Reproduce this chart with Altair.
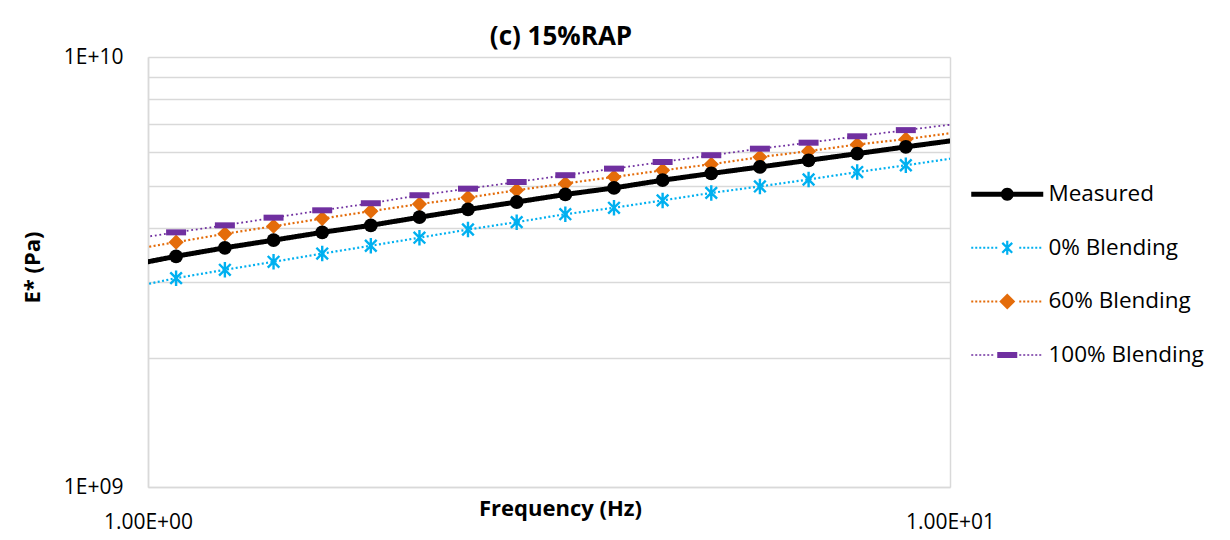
import math
import altair as alt
import pandas as pd

# ---------------- data ----------------
freq = [0.943, 1.084, 1.247, 1.434, 1.649, 1.896, 2.180, 2.506, 2.882, 3.314,
        3.811, 4.382, 5.039, 5.794, 6.663, 7.661, 8.809, 10.13]
measured = [3.27, 3.44, 3.60, 3.75, 3.91, 4.06, 4.24, 4.42, 4.60, 4.79,
            4.96, 5.17, 5.36, 5.55, 5.75, 5.96, 6.18, 6.40]
blend0 = [2.90, 3.06, 3.20, 3.34, 3.49, 3.64, 3.80, 3.97, 4.13, 4.31,
          4.46, 4.64, 4.83, 5.00, 5.19, 5.40, 5.60, 5.82]
blend60 = [3.55, 3.71, 3.88, 4.04, 4.21, 4.38, 4.55, 4.71, 4.90, 5.08,
           5.26, 5.45, 5.63, 5.85, 6.04, 6.26, 6.44, 6.67]
blend100 = [3.76, 3.91, 4.06, 4.23, 4.40, 4.57, 4.77, 4.94, 5.12, 5.31,
            5.50, 5.70, 5.91, 6.12, 6.32, 6.54, 6.76, 6.98]
UNIT = 1e9  # values above are in units of 1E+09 Pa

series_names = ["Measured", "0% Blending", "60% Blending", "100% Blending"]
series_values = [measured, blend0, blend60, blend100]
colors = ["#000000", "#00B0F0", "#E46C0A", "#7030A0"]

y_grid_values = [1e9, 2e9, 3e9, 4e9, 5e9, 6e9, 7e9, 8e9, 9e9, 1e10]
x_tick_values = [1, 10]

rows = []
for name, vals in zip(series_names, series_values):
    for f, v in zip(freq, vals):
        rows.append({"freq": f, "value": v * UNIT, "series": name})
df = pd.DataFrame(rows)

FONT = "Open Sans"
GRID = "#d9d9d9"

# ---------------- marker / legend symbol geometry ----------------
ASTERISK = "M0,-1V1M-0.75,-0.75L0.75,0.75M-0.75,0.75L0.75,-0.75"
BAR = "M-1,-0.3H1V0.3H-1Z"


def rect(x0, y0, x1, y1):
    return f"M{x0:.2f},{y0:.2f}H{x1:.2f}V{y1:.2f}H{x0:.2f}Z"


def dots(half, skip, h, period=4.0, w=2.0):
    out = ""
    x = -half
    while x + w <= half + 0.01:
        if x + w < -skip or x > skip:
            out += rect(x, -h / 2, x + w, h / 2)
        x += period
    return out


def arm(angle_deg, length, hw):
    a = math.radians(angle_deg)
    dx, dy = math.cos(a), math.sin(a)
    nx, ny = -dy, dx
    pts = [(-length * dx + hw * nx, -length * dy + hw * ny),
           (length * dx + hw * nx, length * dy + hw * ny),
           (length * dx - hw * nx, length * dy - hw * ny),
           (-length * dx - hw * nx, -length * dy - hw * ny)]
    return "M" + "L".join(f"{px:.2f},{py:.2f}" for px, py in pts) + "Z"


def circle(r):
    pts = [(r * math.cos(2 * math.pi * i / 24), r * math.sin(2 * math.pi * i / 24)) for i in range(24)]
    return "M" + "L".join(f"{px:.2f},{py:.2f}" for px, py in pts) + "Z"


HALF = 36
leg_measured = rect(-HALF, -2.6, -6, 2.6) + rect(6, -2.6, HALF, 2.6) + circle(6.5)
leg_b0 = dots(HALF, 8, 2.0) + arm(90, 7, 1.1) + arm(45, 7, 1.1) + arm(135, 7, 1.1)
leg_b60 = dots(HALF, 9, 2.0) + "M0,-8L8,0L0,8L-8,0Z"
leg_b100 = dots(HALF, 11, 1.6) + rect(-10, -3, 10, 3)
legend_paths = [leg_measured, leg_b0, leg_b60, leg_b100]

# ---------------- encodings ----------------
X = alt.X(
    "freq:Q",
    scale=alt.Scale(type="log", domain=[1, 10], nice=False),
    axis=alt.Axis(
        values=x_tick_values,
        labelExpr="datum.value == 1 ? '1.00E+00' : '1.00E+01'",
        labelFlush=False,
        grid=True, gridColor=GRID, gridWidth=1.5,
        domainColor=GRID, domainWidth=1.5,
        ticks=False, tickSize=0,
        labelFont=FONT, labelFontSize=21, labelColor="#000000",
        labelBaseline="middle", labelPadding=35,
        title="Frequency (Hz)", titleFont=FONT, titleFontSize=22,
        titleFontWeight="bold", titleColor="#000000",
        titleX=412, titleY=21, titleBaseline="middle",
    ),
)
Y = alt.Y(
    "value:Q",
    scale=alt.Scale(type="log", domain=[1e9, 1e10], nice=False),
    axis=alt.Axis(
        values=y_grid_values,
        labelExpr="datum.value == 1e9 ? '1E+09' : (datum.value == 1e10 ? '1E+10' : '')",
        labelFlush=False,
        grid=True, gridColor=GRID, gridWidth=1.5,
        domainColor=GRID, domainWidth=1.5,
        ticks=False, tickSize=0,
        labelFont=FONT, labelFontSize=21, labelColor="#000000",
        labelPadding=25,
        title="E* (Pa)", titleFont=FONT, titleFontSize=22,
        titleFontWeight="bold", titleColor="#000000",
        titleX=-116, titleY=210, titleBaseline="middle", titleAngle=270,
    ),
)

base = alt.Chart(df)

# line-style scales use the reversed domain order so that they are not merged
# with the (visible) colour/shape legend
rev_names = series_names[::-1]
lines = base.mark_line(clip=True, strokeCap="butt").encode(
    x=X, y=Y,
    stroke=alt.Stroke("series:N", scale=alt.Scale(domain=rev_names, range=colors[::-1]), legend=None),
    strokeDash=alt.StrokeDash(
        "series:N",
        scale=alt.Scale(domain=rev_names, range=[[1.8, 2.8], [2, 2.4], [2, 2.4], [1, 0]]),
        legend=None,
    ),
    strokeWidth=alt.StrokeWidth(
        "series:N",
        scale=alt.Scale(type="ordinal", domain=rev_names, range=[1.8, 2.2, 2.2, 5]),
        legend=None,
    ),
    order=alt.Order("freq:Q"),
)

in_range = "datum.freq >= 1 && datum.freq <= 10"

pts_measured = base.mark_point(shape="circle", filled=True, size=190, color=colors[0], opacity=1).encode(
    x=X, y=Y).transform_filter(f"datum.series == 'Measured' && {in_range}")
pts_b0 = base.mark_point(shape=ASTERISK, filled=False, size=240, stroke=colors[1], strokeWidth=2.4,
                         opacity=1).encode(
    x=X, y=Y).transform_filter(f"datum.series == '0% Blending' && {in_range}")
pts_b60 = base.mark_point(shape="diamond", filled=True, size=230, color=colors[2], opacity=1).encode(
    x=X, y=Y).transform_filter(f"datum.series == '60% Blending' && {in_range}")
pts_b100 = base.mark_point(shape=BAR, filled=True, size=400, color=colors[3], opacity=1).encode(
    x=X, y=Y).transform_filter(f"datum.series == '100% Blending' && {in_range}")

legend = alt.Legend(
    orient="none", legendX=848, legendY=126, padding=0,
    labelFont=FONT, labelFontSize=22.5, labelColor="#000000",
    labelOffset=30, rowPadding=30.6,
    symbolSize=4, symbolStrokeWidth=0, symbolOpacity=1,
)
legend_layer = base.mark_point(filled=True, size=4, opacity=0).encode(
    x=X, y=Y,
    color=alt.Color("series:N", title="", scale=alt.Scale(domain=series_names, range=colors), legend=legend),
    shape=alt.Shape("series:N", title="", scale=alt.Scale(domain=series_names, range=legend_paths), legend=legend),
).transform_filter("datum.freq > 5 && datum.freq < 5.1")

chart = alt.layer(lines, pts_b0, pts_b60, pts_b100, pts_measured, legend_layer).properties(
    width=802,
    height=430,
    title=alt.TitleParams(
        "(c) 15%RAP", font=FONT, fontSize=26, fontWeight="bold", color="#000000",
        anchor="middle", offset=12, dx=12, dy=16,
    ),
    autosize=alt.AutoSizeParams(type="none"),
    padding={"left": 148, "top": 57, "right": 280, "bottom": 53},
).configure(background="#ffffff").configure_view(strokeWidth=0)

chart.save("out.html", embed_options={"renderer": "svg", "actions": False})
